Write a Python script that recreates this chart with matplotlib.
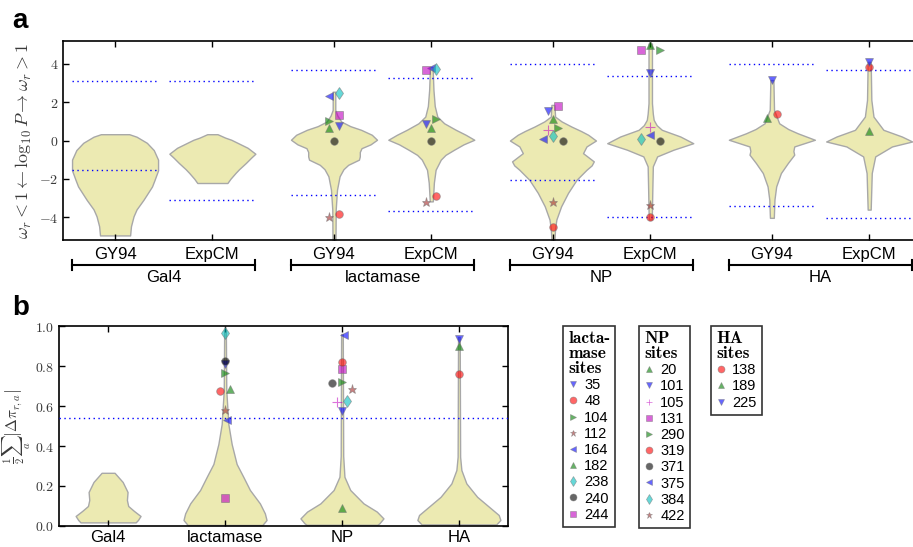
import numpy as np
import matplotlib
import matplotlib.pyplot as plt
from matplotlib.lines import Line2D
from matplotlib.font_manager import FontProperties
import matplotlib.transforms as mtransforms
import os

plt.rcParams['font.family'] = ['Liberation Sans', 'DejaVu Sans']
plt.rcParams['mathtext.fontset'] = 'cm'

# ==== Dados ====
groups = ['Gal4', 'lactamase', 'NP', 'HA']
models = ['GY94', 'ExpCM']

# perfis dos violinos (painel a): (y, meia-largura relativa)
gal4_gy94 = [(0.33, 0.33), (0.2, 0.5), (-0.12, 0.74), (-0.5, 0.9), (-1.0, 1.0), (-1.56, 1.0),
             (-2.05, 0.92), (-2.4, 0.86), (-3.1, 0.66), (-3.6, 0.5), (-3.96, 0.43), (-4.48, 0.37), (-4.96, 0.35)]
gal4_expcm = [(0.33, 0.12), (0.15, 0.3), (0.04, 0.44), (-0.38, 0.82), (-0.69, 1.0), (-0.9, 0.9),
              (-1.17, 0.78), (-1.5, 0.62), (-1.69, 0.54), (-2.0, 0.42), (-2.22, 0.35)]
lac_gy94_v = [(2.55, 0.03), (1.6, 0.03), (1.3, 0.08), (0.99, 0.17), (0.75, 0.38), (0.56, 0.63), (0.3, 0.88),
              (0.04, 1.0), (-0.2, 0.85), (-0.4, 0.64), (-0.6, 0.6), (-0.83, 0.6), (-1.0, 0.58), (-1.27, 0.33),
              (-1.5, 0.22), (-1.87, 0.13), (-2.57, 0.07), (-3.6, 0.04), (-5.2, 0.035)]
lac_expcm_v = [(3.85, 0.03), (2.64, 0.05), (1.8, 0.08), (1.25, 0.14), (0.9, 0.3), (0.56, 0.57), (0.3, 0.8),
               (0.04, 1.0), (-0.2, 0.75), (-0.48, 0.53), (-0.75, 0.33), (-1.0, 0.22), (-1.53, 0.1),
               (-2.2, 0.06), (-3.18, 0.035)]
np_gy94_v = [(1.86, 0.035), (1.25, 0.05), (1.0, 0.2), (0.73, 0.43), (0.5, 0.65), (0.3, 0.82), (0.0, 1.0),
             (-0.31, 0.78), (-0.66, 0.7), (-1.09, 0.95), (-1.3, 0.9), (-1.53, 0.78), (-2.05, 0.55),
             (-2.74, 0.35), (-3.44, 0.19), (-4.13, 0.08), (-4.6, 0.05), (-5.2, 0.035)]
np_expcm_v = [(5.07, 0.04), (1.95, 0.04), (1.4, 0.06), (1.08, 0.08), (0.8, 0.15), (0.56, 0.27), (0.21, 0.7),
              (-0.14, 1.0), (-0.48, 0.54), (-0.83, 0.16), (-1.35, 0.06), (-2.4, 0.05), (-4.13, 0.035)]
ha_gy94_v = [(3.16, 0.035), (1.6, 0.05), (0.9, 0.17), (0.6, 0.38), (0.38, 0.6), (0.04, 1.0), (-0.31, 0.52),
             (-0.55, 0.5), (-0.74, 0.52), (-1.18, 0.37), (-1.7, 0.21), (-2.4, 0.1), (-3.09, 0.06), (-4.04, 0.045)]
ha_expcm_v = [(4.11, 0.035), (2.12, 0.05), (1.25, 0.1), (0.56, 0.33), (0.21, 0.76), (-0.05, 1.0),
              (-0.31, 0.53), (-0.83, 0.14), (-1.7, 0.06), (-3.61, 0.035)]

# limiares (linhas pontilhadas) painel a: [superior, inferior]
cutoffs_top = [(3.1, -1.55), (3.1, -3.1), (3.7, -2.85), (3.25, -3.7),
               (4.0, -2.06), (3.39, -4.0), (4.0, -3.42), (3.7, -4.03)]

# perfis painel b
gal4_diff_v = [(0.266, 0.2), (0.22, 0.45), (0.17, 0.6), (0.13, 0.58), (0.1, 0.62), (0.075, 0.8),
               (0.05, 1.0), (0.03, 0.92), (0.018, 0.85)]
lac_diff_v = [(0.98, 0.02), (0.68, 0.03), (0.51, 0.08), (0.41, 0.16), (0.31, 0.28), (0.246, 0.44),
              (0.18, 0.6), (0.113, 0.84), (0.063, 0.96), (0.03, 1.0), (0.005, 0.9)]
np_diff_v = [(0.96, 0.02), (0.35, 0.03), (0.246, 0.06), (0.18, 0.2), (0.113, 0.52), (0.072, 0.84),
             (0.038, 1.0), (0.013, 0.9), (0.006, 0.85)]
ha_diff_v = [(0.945, 0.02), (0.346, 0.03), (0.28, 0.06), (0.213, 0.18), (0.146, 0.44), (0.097, 0.72),
             (0.055, 0.96), (0.03, 1.0), (0.008, 0.9)]
cutoff_diff = 0.54

# sitios
lac_sites = ['35', '48', '104', '112', '164', '182', '238', '240', '244']
lac_gy94 = [0.75, -3.85, 1.0, -4.0, 2.35, 0.65, 2.5, -0.05, 1.35]
lac_expcm = [0.85, -2.9, 1.1, -3.2, 3.8, 0.65, 3.75, -0.05, 3.7]
lac_diff = [0.809, 0.674, 0.767, 0.579, 0.53, 0.686, 0.967, 0.824, 0.138]

np_sites = ['20', '101', '105', '131', '290', '319', '371', '375', '384', '422']
np_gy94 = [1.15, 1.55, 0.56, 1.82, 0.68, -4.53, 0.0, 0.1, 0.26, -3.23]
np_expcm = [4.97, 3.51, 0.73, 4.72, 4.72, -3.99, -0.02, 0.31, 0.07, -3.35]
np_diff = [0.088, 0.574, 0.62, 0.784, 0.72, 0.82, 0.717, 0.957, 0.624, 0.687]

ha_sites = ['138', '189', '225']
ha_gy94 = [1.37, 1.17, 3.15]
ha_expcm = [3.84, 0.5, 4.08]
ha_diff = [0.762, 0.902, 0.937]

# deslocamentos horizontais para nao sobrepor
lac_gy94_dx = [0.05, 0.05, -0.05, -0.05, -0.05, -0.05, 0.05, 0, 0.05]
lac_expcm_dx = [-0.05, 0.05, 0.05, -0.05, 0, 0, 0.05, 0, -0.05]
np_gy94_dx = [0, -0.05, -0.05, 0.05, 0.05, 0, 0.1, -0.1, 0, 0]
np_expcm_dx = [0, 0, 0, -0.1, 0.1, 0, 0.1, 0, -0.1, 0]
ha_gy94_dx = [0.05, -0.05, 0]
ha_expcm_dx = [0, 0, 0]
lac_diff_dx = [0, -0.045, 0, 0, 0.015, 0.045, 0, 0, 0]
np_diff_dx = [0, 0, -0.045, 0, 0, 0, -0.085, 0.015, 0.045, 0.085]
ha_diff_dx = [0, 0, 0]

# estilo dos marcadores por sitio
estilo = {
    'lactamase': {'35': ('v', 'blue'), '48': ('o', 'red'), '104': ('>', 'green'), '112': ('*', 'brown'),
                  '164': ('<', 'blue'), '182': ('^', 'green'), '238': ('d', 'c'), '240': ('o', 'black'),
                  '244': ('s', 'm')},
    'NP': {'20': ('^', 'green'), '101': ('v', 'blue'), '105': ('+', 'm'), '131': ('s', 'm'),
           '290': ('>', 'green'), '319': ('o', 'red'), '371': ('o', 'black'), '375': ('<', 'blue'),
           '384': ('d', 'c'), '422': ('*', 'brown')},
    'HA': {'138': ('o', 'red'), '189': ('^', 'green'), '225': ('v', 'blue')},
}

FILL = '#ECEAB2'
EDGE = '#a8a8a8'
TXT = '#3a3a3a'


def vstats(profile):
    ys = np.array([p[0] for p in profile])
    ws = np.array([p[1] for p in profile])
    o = np.argsort(ys)
    return dict(coords=ys[o], vals=ws[o], mean=0.0, median=0.0, min=ys.min(), max=ys.max())


def marca(ax, x, y, grupo, site):
    m, c = estilo[grupo][site]
    ms = 5.5
    if m in ('*', 'd'):
        ms = 6.5
    if m == '+':
        return ax.plot(x, y, ls='none', marker=m, ms=7, color=c, alpha=0.55, mew=0.8, zorder=5)
    return ax.plot(x, y, ls='none', marker=m, ms=ms, color=c, alpha=0.6, mec='#777777', mew=0.6, zorder=5)


fig = plt.figure(figsize=(9.13, 5.47), dpi=100)

# ==== painel a ====
ax1 = fig.add_axes([0.069, 0.5612, 0.9363, 0.3638])
pos_top = [0, 1, 2.25, 3.25, 4.5, 5.5, 6.75, 7.75]
perfis_top = [gal4_gy94, gal4_expcm, lac_gy94_v, lac_expcm_v, np_gy94_v, np_expcm_v, ha_gy94_v, ha_expcm_v]
largura = 0.884
vp = ax1.violin([vstats(p) for p in perfis_top], positions=pos_top, widths=largura,
                showmeans=False, showextrema=False, showmedians=False)
for b in vp['bodies']:
    b.set_facecolor(FILL)
    b.set_edgecolor(EDGE)
    b.set_linewidth(1.0)
    b.set_alpha(1)
for p, (hi, lo) in zip(pos_top, cutoffs_top):
    ax1.hlines([hi, lo], p - largura / 2, p + largura / 2, colors='blue', linestyles=(0, (1, 2.5)),
               linewidth=1.0, zorder=4)

series_top = [
    ('lactamase', lac_sites, lac_gy94, lac_gy94_dx, pos_top[2]),
    ('lactamase', lac_sites, lac_expcm, lac_expcm_dx, pos_top[3]),
    ('NP', np_sites, np_gy94, np_gy94_dx, pos_top[4]),
    ('NP', np_sites, np_expcm, np_expcm_dx, pos_top[5]),
    ('HA', ha_sites, ha_gy94, ha_gy94_dx, pos_top[6]),
    ('HA', ha_sites, ha_expcm, ha_expcm_dx, pos_top[7]),
]
for g, sites, vals, dx, p in series_top:
    for s, v, d in zip(sites, vals, dx):
        marca(ax1, p + d, v, g, s)

ax1.set_xlim(-0.535, 8.25)
ax1.set_ylim(-5.2, 5.2)
ax1.set_xticks(pos_top)
ax1.set_xticklabels(models * 4, fontsize=12)
ax1.set_yticks([-4, -2, 0, 2, 4])
ax1.set_yticklabels([r'$-4$', r'$-2$', r'$0$', r'$2$', r'$4$'], fontsize=10, color=TXT)
ax1.tick_params(direction='in', length=4, top=True, right=False, width=1)
ax1.tick_params(axis='x', pad=5)
for sp in ax1.spines.values():
    sp.set_linewidth(1.2)
ax1.set_ylabel(r'$\omega_r < 1 \leftarrow \log_{10} P \rightarrow \omega_r > 1$', fontsize=13,
               color=TXT)
ax1.yaxis.set_label_coords(-0.034, 0.5)

# colchetes de grupo
tr = mtransforms.blended_transform_factory(ax1.transData, ax1.transAxes)
for i, g in enumerate(groups):
    x0 = pos_top[2 * i] - largura / 2
    x1 = pos_top[2 * i + 1] + largura / 2
    ax1.add_line(Line2D([x0, x1], [-0.126, -0.126], color='black', lw=1.5, transform=tr, clip_on=False))
    for xx in (x0, x1):
        ax1.add_line(Line2D([xx, xx], [-0.1, -0.152], color='black', lw=1.5, transform=tr, clip_on=False))
    ax1.text((x0 + x1) / 2, -0.19, g, transform=tr, ha='center', va='center', fontsize=12)

# ==== painel b ====
ax2 = fig.add_axes([0.0646, 0.0384, 0.4918, 0.3656])
pos_bot = [0, 1, 2, 3]
vp2 = ax2.violin([vstats(p) for p in [gal4_diff_v, lac_diff_v, np_diff_v, ha_diff_v]], positions=pos_bot,
                 widths=[0.555, 0.71, 0.71, 0.71], showmeans=False, showextrema=False, showmedians=False)
for b in vp2['bodies']:
    b.set_facecolor(FILL)
    b.set_edgecolor(EDGE)
    b.set_linewidth(1.0)
    b.set_alpha(1)
ax2.axhline(cutoff_diff, color='blue', linestyle=(0, (1, 2.5)), linewidth=1.0, zorder=4)
for g, sites, vals, dx, p in [('lactamase', lac_sites, lac_diff, lac_diff_dx, 1),
                              ('NP', np_sites, np_diff, np_diff_dx, 2),
                              ('HA', ha_sites, ha_diff, ha_diff_dx, 3)]:
    for s, v, d in zip(sites, vals, dx):
        marca(ax2, p + d, v, g, s)

ax2.set_xlim(-0.42, 3.42)
ax2.set_ylim(0, 1)
ax2.set_xticks(pos_bot)
ax2.set_xticklabels(groups, fontsize=12)
ax2.set_yticks(np.arange(0, 1.01, 0.2))
ax2.set_yticklabels([r'$%.1f$' % t for t in np.arange(0, 1.01, 0.2)], fontsize=10, color=TXT)
ax2.tick_params(direction='in', length=4, top=True, right=True, width=1)
ax2.tick_params(axis='x', pad=3)
for sp in ax2.spines.values():
    sp.set_linewidth(1.2)
ax2.set_ylabel(r'$\frac{1}{2}\sum_a \left|\Delta\pi_{r,a}\right|$', fontsize=11, color=TXT)
ax2.yaxis.set_label_coords(-0.057, 0.5)

# ==== legendas ====
cmb = FontProperties(fname=os.path.join(matplotlib.get_data_path(), 'fonts', 'ttf', 'cmb10.ttf'), size=12.5)
leg_x = [563, 639, 711]
for g, sites, titulo, lx in [('lactamase', lac_sites, 'lacta-\nmase\nsites', leg_x[0]),
                             ('NP', np_sites, 'NP\nsites', leg_x[1]),
                             ('HA', ha_sites, 'HA\nsites', leg_x[2])]:
    hs = []
    for s in sites:
        m, c = estilo[g][s]
        hs.append(Line2D([], [], ls='none', marker=m, color=c, alpha=0.6, ms=5,
                         mec='#777777' if m != '+' else c, mew=0.5))
    leg = fig.legend(hs, sites, loc='upper left', bbox_to_anchor=(lx / 913, 1 - 326 / 547),
                     fontsize=10.5, title=titulo, title_fontproperties=cmb, alignment='left',
                     frameon=True, fancybox=False, edgecolor='black', handlelength=0.7,
                     handletextpad=0.4, labelspacing=0.15, borderpad=0.35, borderaxespad=0,
                     markerscale=1.0)
    leg.get_title().set_linespacing(1.0)
    leg.get_frame().set_linewidth(1.2)

fig.text(12 / 913, 1 - 28 / 547, 'a', fontsize=20, fontweight='bold', va='baseline')
fig.text(12 / 913, 1 - 315 / 547, 'b', fontsize=20, fontweight='bold', va='baseline')

fig.savefig('out.png', dpi=100)
